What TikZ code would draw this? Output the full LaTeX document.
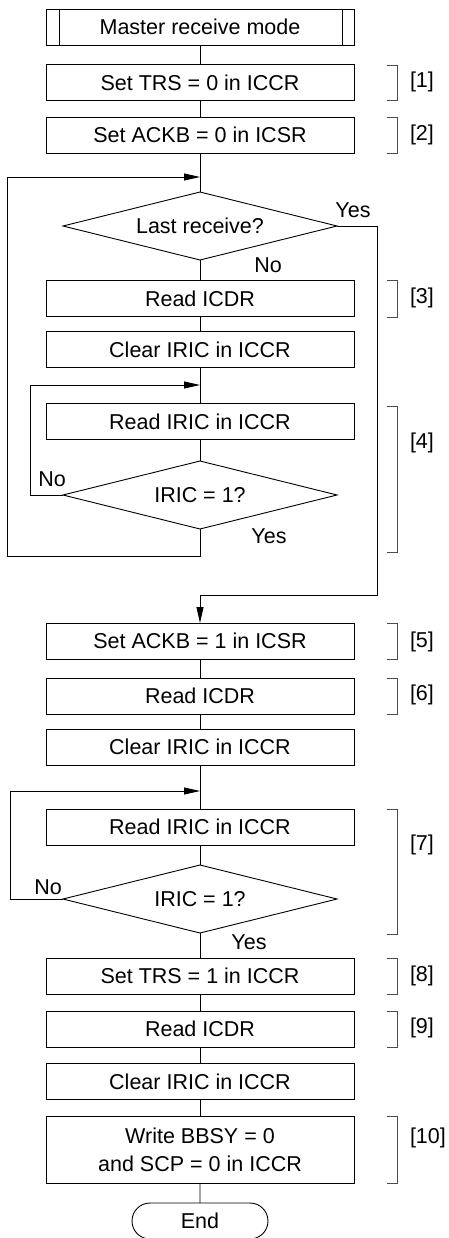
\documentclass[tikz,border=0pt]{standalone}
\usepackage{fontspec}
\setmainfont{Liberation Sans}
\usetikzlibrary{shapes.geometric,shapes.misc,arrows.meta}
\begin{document}
\begin{tikzpicture}[x=1pt,y=-1pt,
  every node/.style={font=\fontsize{21.5pt}{28pt}\selectfont, inner sep=0pt, outer sep=0pt},
  proc/.style={draw, line width=0.9pt, minimum width=308pt, minimum height=36pt, align=center},
  sub/.style={proc},
  dec/.style={draw, line width=0.9pt, diamond, aspect=4, minimum width=274pt, minimum height=68pt},
  term/.style={draw, line width=0.9pt, rounded rectangle, minimum width=136pt, minimum height=36pt},
  conn/.style={line width=0.9pt},
  arr/.style={line width=0.9pt, -{Triangle[length=16pt,width=7pt]}},
  brk/.style={line width=0.7pt, black!70},
  lbl/.style={anchor=west}
]
\useasboundingbox (0,0) rectangle (448,1238);

% nodes
\node[sub]  (master) at (200,27) {Master receive mode};
\draw[line width=0.9pt] (59,9) -- (59,45) (342,9) -- (342,45);
\node[proc] (b1) at (200,82.5) {Set TRS = 0 in ICCR};
\node[proc] (b2) at (200,135) {Set ACKB = 0 in ICSR};
\node[dec]  (d1) at (200,226) {Last receive?};
\node[proc] (b3) at (200,298.5) {Read ICDR};
\node[proc] (b3c) at (200,349.5) {Clear IRIC in ICCR};
\node[proc] (b4) at (200,421.5) {Read IRIC in ICCR};
\node[dec]  (d2) at (200,495) {IRIC = 1?};
\node[proc] (b5) at (200,641) {Set ACKB = 1 in ICSR};
\node[proc] (b6) at (200,696) {Read ICDR};
\node[proc] (b6c) at (200,747) {Clear IRIC in ICCR};
\node[proc] (b7) at (200,827) {Read IRIC in ICCR};
\node[dec]  (d3) at (200,899) {IRIC = 1?};
\node[proc] (b8) at (200,976) {Set TRS = 1 in ICCR};
\node[proc] (b9) at (200,1029) {Read ICDR};
\node[proc] (b9c) at (200,1081.5) {Clear IRIC in ICCR};
\node[proc, minimum height=67pt] (b10) at (200,1149.5) {Write BBSY = 0\\and SCP = 0 in ICCR};
\node[term] (end) at (200,1221) {End};

% yes/no labels
\node (y1) at (353,210) {Yes};
\node (n1) at (268,265) {No};
\node (n2) at (52,479) {No};
\node (y2) at (269,536) {Yes};
\node (n3) at (48,887) {No};
\node (y3) at (249,942) {Yes};

% junction coordinates
\coordinate (j1) at (200,177);
\coordinate (j2) at (200,385);
\coordinate (j3) at (200,791);

% connectors
\draw[conn] (master) -- (b1);
\draw[conn] (b1) -- (b2);
\draw[conn] (b2) -- (d1);
\draw[conn] (d1) -- (b3);
\draw[conn] (b3) -- (b3c);
\draw[conn] (b3c) -- (b4);
\draw[conn] (b4) -- (d2);
\draw[arr] (d2.south) -- (200,556) -- (7,556) |- (j1);
\draw[arr] (d2.west) -- (30,495) |- (j2);
\draw[arr] (d1.east) -- (377,226) -- (377,595) -| (b5.north);
\draw[conn] (b5) -- (b6);
\draw[conn] (b6) -- (b6c);
\draw[conn] (b6c) -- (b7);
\draw[conn] (b7) -- (d3);
\draw[arr] (d3.west) -- (10,899) |- (j3);
\draw[conn] (d3) -- (b8);
\draw[conn] (b8) -- (b9);
\draw[conn] (b9) -- (b9c);
\draw[conn] (b9c) -- (b10);
\draw[conn] (b10) -- (end);

% brackets
\foreach \t/\b/\ly/\txt/\nm in {65/100/82/[1]/L1, 117/153/135/[2]/L2, 280/317/298/[3]/L3,
   406/552/443/[4]/L4, 623/659/642/[5]/L5, 678/714/695/[6]/L6, 809/934/845/[7]/L7,
   958/994/976/[8]/L8, 1011/1047/1028/[9]/L9, 1116/1183/1138/[10]/L10}{
  \draw[brk] (387,\t) -- (397,\t) -- (397,\b) -- (387,\b);
  \node[lbl] (\nm) at (410,\ly) {\txt};
}
\end{tikzpicture}
\end{document}
